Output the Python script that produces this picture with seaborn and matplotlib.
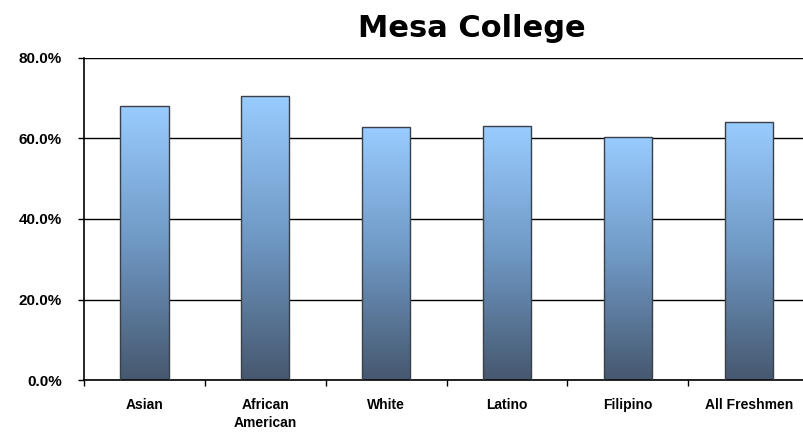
import matplotlib
matplotlib.use("Agg")
import matplotlib.pyplot as plt
import numpy as np
import pandas as pd
import seaborn as sns
from matplotlib.colors import LinearSegmentedColormap

# Data
groups = ["Asian", "African\nAmerican", "White", "Latino", "Filipino", "All Freshmen"]
rates = [68.1, 70.6, 62.9, 63.1, 60.4, 64.1]
yticks = [0, 20, 40, 60, 80]

df = pd.DataFrame({"group": groups, "rate": rates})

sns.set_style("white")
plt.rcParams["font.family"] = ["Liberation Sans", "DejaVu Sans"]
plt.rcParams["text.color"] = "black"
plt.rcParams["xtick.color"] = "black"
plt.rcParams["ytick.color"] = "black"

fig = plt.figure(figsize=(8.04, 4.34), dpi=100)
ax = fig.add_axes([0.1045, 0.1244, 0.902, 0.742])

sns.barplot(data=df, x="group", y="rate", ax=ax, width=0.4,
            color="#6f98c4", edgecolor="#3a3f48", linewidth=1.0, zorder=3)

# vertical gradient fill, light blue on top, slate at the bottom
cmap = LinearSegmentedColormap.from_list("bar", ["#46586f", "#6f98c4", "#99ccff"])
grad = np.linspace(0, 1, 256).reshape(-1, 1)
for p in ax.patches:
    x0, y0 = p.get_x(), p.get_y()
    w, h = p.get_width(), p.get_height()
    p.set_facecolor("none")
    im = ax.imshow(grad, cmap=cmap, origin="lower", aspect="auto",
                   extent=[x0, x0 + w, y0, y0 + h], zorder=2.5)
    im.set_clip_path(p)

ax.set_xlim(-0.5, 5.5)
ax.set_ylim(0, 80)
ax.set_yticks(yticks)
ax.set_yticklabels([f"{v:.1f}%" for v in yticks], fontsize=11, fontweight="bold")
ax.yaxis.grid(True, color="black", linewidth=1.0, zorder=0)
ax.set_axisbelow(True)

ax.set_xticks(range(len(groups)))
ax.set_xticklabels(groups, fontsize=10, fontweight="bold", linespacing=1.4)
ax.set_xticks(np.arange(-0.5, 6, 1), minor=True)
ax.tick_params(axis="x", which="major", bottom=True, length=0, pad=13)
ax.tick_params(axis="x", which="minor", bottom=True, length=4, width=1,
               color="black", direction="out")
ax.tick_params(axis="y", left=True, length=4, width=1, color="black",
               direction="out", pad=12)
ax.set_xlabel("")
ax.set_ylabel("")

for side in ["left", "bottom"]:
    ax.spines[side].set_color("black")
    ax.spines[side].set_linewidth(1.2)
ax.spines["top"].set_visible(False)
ax.spines["right"].set_visible(False)

fig.text(0.587, 0.935, "Mesa College", ha="center", va="center", color="black",
         fontsize=22, fontweight="bold", family="DejaVu Sans")

fig.savefig("out.png", dpi=100)
